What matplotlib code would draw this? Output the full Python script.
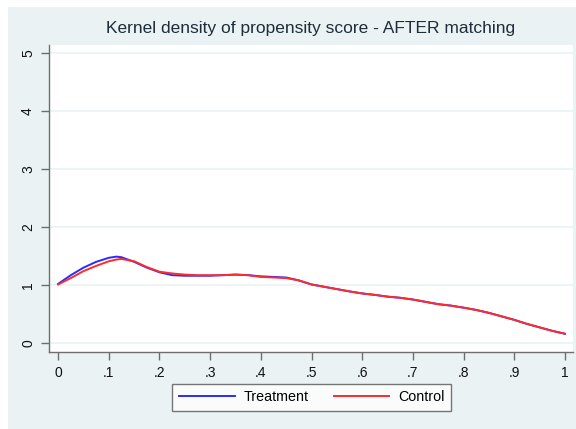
import matplotlib
matplotlib.use("Agg")
import matplotlib.pyplot as plt
from matplotlib.patches import Rectangle

plt.rcParams['font.family'] = ['Liberation Sans', 'DejaVu Sans']

x = [0.000, 0.025, 0.050, 0.075, 0.100, 0.115, 0.125, 0.150, 0.175, 0.200,
     0.225, 0.250, 0.275, 0.300, 0.325, 0.350, 0.375, 0.400, 0.425, 0.450,
     0.475, 0.500, 0.525, 0.550, 0.575, 0.600, 0.625, 0.650, 0.675, 0.700,
     0.725, 0.750, 0.775, 0.800, 0.825, 0.850, 0.875, 0.900, 0.925, 0.950,
     0.975, 1.000]
treatment = [1.02, 1.17, 1.30, 1.40, 1.47, 1.49, 1.48, 1.40, 1.30, 1.22,
             1.17, 1.16, 1.16, 1.16, 1.17, 1.18, 1.17, 1.15, 1.14, 1.13,
             1.08, 1.01, 0.97, 0.93, 0.89, 0.855, 0.83, 0.80, 0.78, 0.75,
             0.71, 0.67, 0.645, 0.61, 0.57, 0.52, 0.46, 0.40, 0.33, 0.27,
             0.21, 0.16]
control = [1.01, 1.12, 1.24, 1.33, 1.41, 1.44, 1.45, 1.41, 1.31, 1.23,
           1.20, 1.18, 1.17, 1.17, 1.17, 1.18, 1.17, 1.14, 1.13, 1.12,
           1.08, 1.01, 0.97, 0.93, 0.89, 0.855, 0.83, 0.80, 0.78, 0.75,
           0.71, 0.67, 0.645, 0.61, 0.57, 0.52, 0.46, 0.40, 0.33, 0.27,
           0.21, 0.16]
xticks = [0, 0.1, 0.2, 0.3, 0.4, 0.5, 0.6, 0.7, 0.8, 0.9, 1.0]
xticklabels = ['0', '.1', '.2', '.3', '.4', '.5', '.6', '.7', '.8', '.9', '1']
yticks = [0, 1, 2, 3, 4, 5]
yticklabels = ['0', '1', '2', '3', '4', '5']

W, H = 576, 429
fig = plt.figure(figsize=(W / 100, H / 100), dpi=100, facecolor='white')
bg = '#eaf2f3'
fig.patches.append(Rectangle((8 / W, 0), 1 - 8 / W, 1 - 7 / H,
                             transform=fig.transFigure, facecolor=bg,
                             edgecolor='none', zorder=-10))

ax = fig.add_axes([49 / W, 1 - 352 / H, (573 - 49) / W, (352 - 45) / H])
ax.set_facecolor('white')
ax.plot(x, treatment, color='#2b2bff', lw=1.4, label='Treatment', zorder=3)
ax.plot(x, control, color='#ff2a2a', lw=1.4, label='Control', zorder=4)

ax.set_xlim(-0.018, 1.016)
ax.set_ylim(-0.155, 5.14)
ax.set_xticks(xticks)
ax.set_xticklabels(xticklabels)
ax.set_yticks(yticks)
ax.set_yticklabels(yticklabels, rotation=90, va='center')
ax.grid(axis='y', color=bg, lw=1.2)
ax.set_axisbelow(True)

for s in ['top', 'right']:
    ax.spines[s].set_visible(False)
for s in ['left', 'bottom']:
    ax.spines[s].set_color('#6e6e6e')
    ax.spines[s].set_linewidth(1.0)
ax.tick_params(axis='both', length=6, width=1.0, color='#6e6e6e',
               labelsize=10, labelcolor='#111111', pad=4)

fig.text(311 / W, 1 - 26.5 / H,
         'Kernel density of propensity score - AFTER matching',
         ha='center', va='center_baseline', fontsize=12.5, color='#1e2d3b')

leg = fig.legend(loc='center', bbox_to_anchor=(311.7 / W, 1 - 397.3 / H), ncol=2,
                 frameon=True, fancybox=False, fontsize=10.3, handlelength=3.9,
                 columnspacing=1.75, borderpad=0.45, handletextpad=0.62,
                 borderaxespad=0)
leg.get_frame().set_edgecolor('#555555')
leg.get_frame().set_linewidth(1.0)

fig.savefig('out.png', dpi=100, facecolor='white')
